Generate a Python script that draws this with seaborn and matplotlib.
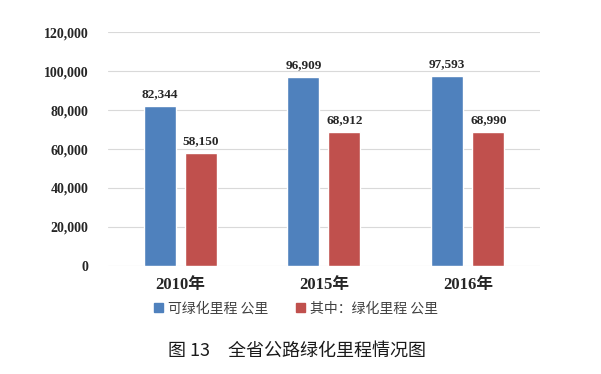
import pandas as pd
import matplotlib.pyplot as plt
import seaborn as sns
from matplotlib.ticker import FuncFormatter

# Data
years = ['2010年', '2015年', '2016年']
greenable_km = [82344, 96909, 97593]
greened_km = [58150, 68912, 68990]
series_names = ['可绿化里程 公里', '其中：绿化里程 公里']
colors = ['#4F81BD', '#C0504D']

df = pd.DataFrame({
    'year': years * 2,
    'km': greenable_km + greened_km,
    'series': [series_names[0]] * 3 + [series_names[1]] * 3,
})

sns.set_style('white')
serif = ['Liberation Serif', 'Noto Sans CJK SC']
cjk = ['Noto Sans CJK SC', 'DejaVu Sans']
plt.rcParams['font.family'] = cjk

fig = plt.figure(figsize=(6.01, 3.74), dpi=100)
ax = fig.add_axes([0.18, 0.289, 0.718, 0.625])

sns.barplot(data=df, x='year', y='km', hue='series', palette=colors,
            width=0.57, gap=0.22, saturation=1, legend=False, ax=ax, zorder=3)

ax.set_ylim(0, 120000)
ax.set_yticks(range(0, 120001, 20000))
ax.yaxis.set_major_formatter(FuncFormatter(lambda v, p: f'{int(v):,}'))
ax.grid(axis='y', color='#D9D9D9', linewidth=0.8, zorder=0)
for s in ax.spines.values():
    s.set_visible(False)
ax.tick_params(axis='both', length=0)
ax.tick_params(axis='y', pad=14)
ax.tick_params(axis='x', pad=8)
ax.set_xlabel('')
ax.set_ylabel('')

for lab in ax.get_yticklabels():
    lab.set_fontfamily(serif)
    lab.set_fontweight('bold')
    lab.set_fontsize(10)
for lab in ax.get_xticklabels():
    lab.set_fontfamily(serif)
    lab.set_fontweight('bold')
    lab.set_fontsize(12)

for cont in ax.containers:
    ax.bar_label(cont, labels=[f'{int(v):,}' for v in cont.datavalues],
                 padding=4, fontsize=9.5, fontweight='bold', family=serif)

# Legend below the plot
handles = [plt.Rectangle((0, 0), 1, 1, color=c) for c in colors]
fig.legend(handles, series_names, loc='center', bbox_to_anchor=(0.493, 0.175),
           ncol=2, frameon=False, fontsize=10, handlelength=0.6, handleheight=0.6,
           handletextpad=0.4, columnspacing=2.0, labelcolor='#404040')

fig.text(0.495, 0.062, '图 13\u3000全省公路绿化里程情况图', ha='center', va='center',
         fontsize=13, color='#1a1a1a')

fig.savefig('out.png', dpi=100)
